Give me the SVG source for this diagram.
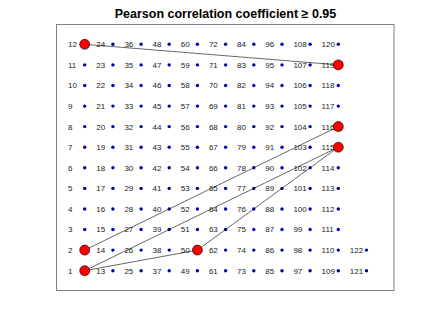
<svg xmlns="http://www.w3.org/2000/svg" width="436" height="327" viewBox="0 0 436 327">
<style>
text{font-family:"Liberation Sans",Arial,sans-serif;font-size:8px;fill:#222}
.t{font-size:12.5px;font-weight:bold;fill:#000;text-anchor:middle}
.d{fill:#0000a8}
.h{fill:#ff0000;stroke:#000;stroke-width:0.6}
.e{stroke:#000;stroke-width:0.6;fill:none}
</style>
<rect x="0" y="0" width="436" height="327" fill="#fff"/>
<text class="t" x="225.5" y="17.5">Pearson correlation coefficient ≥ 0.95</text>
<rect x="56.5" y="24.5" width="337.5" height="266" fill="none" stroke="#808080" stroke-width="1"/>
<g id="nodes">
<g id="n1"><text x="68.0" y="273.6">1</text></g>
<g id="n2"><text x="68.0" y="253.0">2</text></g>
<g id="n3"><text x="68.0" y="232.4">3</text><circle class="d" cx="84.7" cy="229.5" r="1.7"/></g>
<g id="n4"><text x="68.0" y="211.9">4</text><circle class="d" cx="84.7" cy="209.0" r="1.7"/></g>
<g id="n5"><text x="68.0" y="191.3">5</text><circle class="d" cx="84.7" cy="188.4" r="1.7"/></g>
<g id="n6"><text x="68.0" y="170.7">6</text><circle class="d" cx="84.7" cy="167.8" r="1.7"/></g>
<g id="n7"><text x="68.0" y="150.1">7</text><circle class="d" cx="84.7" cy="147.2" r="1.7"/></g>
<g id="n8"><text x="68.0" y="129.5">8</text><circle class="d" cx="84.7" cy="126.6" r="1.7"/></g>
<g id="n9"><text x="68.0" y="109.0">9</text><circle class="d" cx="84.7" cy="106.1" r="1.7"/></g>
<g id="n10"><text x="68.0" y="88.4">10</text><circle class="d" cx="84.7" cy="85.5" r="1.7"/></g>
<g id="n11"><text x="68.0" y="67.8">11</text><circle class="d" cx="84.7" cy="64.9" r="1.7"/></g>
<g id="n12"><text x="68.0" y="47.2">12</text></g>
<g id="n13"><text x="96.2" y="273.6">13</text><circle class="d" cx="112.9" cy="270.7" r="1.7"/></g>
<g id="n14"><text x="96.2" y="253.0">14</text><circle class="d" cx="112.9" cy="250.1" r="1.7"/></g>
<g id="n15"><text x="96.2" y="232.4">15</text><circle class="d" cx="112.9" cy="229.5" r="1.7"/></g>
<g id="n16"><text x="96.2" y="211.9">16</text><circle class="d" cx="112.9" cy="209.0" r="1.7"/></g>
<g id="n17"><text x="96.2" y="191.3">17</text><circle class="d" cx="112.9" cy="188.4" r="1.7"/></g>
<g id="n18"><text x="96.2" y="170.7">18</text><circle class="d" cx="112.9" cy="167.8" r="1.7"/></g>
<g id="n19"><text x="96.2" y="150.1">19</text><circle class="d" cx="112.9" cy="147.2" r="1.7"/></g>
<g id="n20"><text x="96.2" y="129.5">20</text><circle class="d" cx="112.9" cy="126.6" r="1.7"/></g>
<g id="n21"><text x="96.2" y="109.0">21</text><circle class="d" cx="112.9" cy="106.1" r="1.7"/></g>
<g id="n22"><text x="96.2" y="88.4">22</text><circle class="d" cx="112.9" cy="85.5" r="1.7"/></g>
<g id="n23"><text x="96.2" y="67.8">23</text><circle class="d" cx="112.9" cy="64.9" r="1.7"/></g>
<g id="n24"><text x="96.2" y="47.2">24</text><circle class="d" cx="112.9" cy="44.3" r="1.7"/></g>
<g id="n25"><text x="124.4" y="273.6">25</text><circle class="d" cx="141.1" cy="270.7" r="1.7"/></g>
<g id="n26"><text x="124.4" y="253.0">26</text><circle class="d" cx="141.1" cy="250.1" r="1.7"/></g>
<g id="n27"><text x="124.4" y="232.4">27</text><circle class="d" cx="141.1" cy="229.5" r="1.7"/></g>
<g id="n28"><text x="124.4" y="211.9">28</text><circle class="d" cx="141.1" cy="209.0" r="1.7"/></g>
<g id="n29"><text x="124.4" y="191.3">29</text><circle class="d" cx="141.1" cy="188.4" r="1.7"/></g>
<g id="n30"><text x="124.4" y="170.7">30</text><circle class="d" cx="141.1" cy="167.8" r="1.7"/></g>
<g id="n31"><text x="124.4" y="150.1">31</text><circle class="d" cx="141.1" cy="147.2" r="1.7"/></g>
<g id="n32"><text x="124.4" y="129.5">32</text><circle class="d" cx="141.1" cy="126.6" r="1.7"/></g>
<g id="n33"><text x="124.4" y="109.0">33</text><circle class="d" cx="141.1" cy="106.1" r="1.7"/></g>
<g id="n34"><text x="124.4" y="88.4">34</text><circle class="d" cx="141.1" cy="85.5" r="1.7"/></g>
<g id="n35"><text x="124.4" y="67.8">35</text><circle class="d" cx="141.1" cy="64.9" r="1.7"/></g>
<g id="n36"><text x="124.4" y="47.2">36</text><circle class="d" cx="141.1" cy="44.3" r="1.7"/></g>
<g id="n37"><text x="152.5" y="273.6">37</text><circle class="d" cx="169.2" cy="270.7" r="1.7"/></g>
<g id="n38"><text x="152.5" y="253.0">38</text><circle class="d" cx="169.2" cy="250.1" r="1.7"/></g>
<g id="n39"><text x="152.5" y="232.4">39</text><circle class="d" cx="169.2" cy="229.5" r="1.7"/></g>
<g id="n40"><text x="152.5" y="211.9">40</text><circle class="d" cx="169.2" cy="209.0" r="1.7"/></g>
<g id="n41"><text x="152.5" y="191.3">41</text><circle class="d" cx="169.2" cy="188.4" r="1.7"/></g>
<g id="n42"><text x="152.5" y="170.7">42</text><circle class="d" cx="169.2" cy="167.8" r="1.7"/></g>
<g id="n43"><text x="152.5" y="150.1">43</text><circle class="d" cx="169.2" cy="147.2" r="1.7"/></g>
<g id="n44"><text x="152.5" y="129.5">44</text><circle class="d" cx="169.2" cy="126.6" r="1.7"/></g>
<g id="n45"><text x="152.5" y="109.0">45</text><circle class="d" cx="169.2" cy="106.1" r="1.7"/></g>
<g id="n46"><text x="152.5" y="88.4">46</text><circle class="d" cx="169.2" cy="85.5" r="1.7"/></g>
<g id="n47"><text x="152.5" y="67.8">47</text><circle class="d" cx="169.2" cy="64.9" r="1.7"/></g>
<g id="n48"><text x="152.5" y="47.2">48</text><circle class="d" cx="169.2" cy="44.3" r="1.7"/></g>
<g id="n49"><text x="180.7" y="273.6">49</text><circle class="d" cx="197.4" cy="270.7" r="1.7"/></g>
<g id="n50"><text x="180.7" y="253.0">50</text></g>
<g id="n51"><text x="180.7" y="232.4">51</text><circle class="d" cx="197.4" cy="229.5" r="1.7"/></g>
<g id="n52"><text x="180.7" y="211.9">52</text><circle class="d" cx="197.4" cy="209.0" r="1.7"/></g>
<g id="n53"><text x="180.7" y="191.3">53</text><circle class="d" cx="197.4" cy="188.4" r="1.7"/></g>
<g id="n54"><text x="180.7" y="170.7">54</text><circle class="d" cx="197.4" cy="167.8" r="1.7"/></g>
<g id="n55"><text x="180.7" y="150.1">55</text><circle class="d" cx="197.4" cy="147.2" r="1.7"/></g>
<g id="n56"><text x="180.7" y="129.5">56</text><circle class="d" cx="197.4" cy="126.6" r="1.7"/></g>
<g id="n57"><text x="180.7" y="109.0">57</text><circle class="d" cx="197.4" cy="106.1" r="1.7"/></g>
<g id="n58"><text x="180.7" y="88.4">58</text><circle class="d" cx="197.4" cy="85.5" r="1.7"/></g>
<g id="n59"><text x="180.7" y="67.8">59</text><circle class="d" cx="197.4" cy="64.9" r="1.7"/></g>
<g id="n60"><text x="180.7" y="47.2">60</text><circle class="d" cx="197.4" cy="44.3" r="1.7"/></g>
<g id="n61"><text x="208.9" y="273.6">61</text><circle class="d" cx="225.6" cy="270.7" r="1.7"/></g>
<g id="n62"><text x="208.9" y="253.0">62</text><circle class="d" cx="225.6" cy="250.1" r="1.7"/></g>
<g id="n63"><text x="208.9" y="232.4">63</text><circle class="d" cx="225.6" cy="229.5" r="1.7"/></g>
<g id="n64"><text x="208.9" y="211.9">64</text><circle class="d" cx="225.6" cy="209.0" r="1.7"/></g>
<g id="n65"><text x="208.9" y="191.3">65</text><circle class="d" cx="225.6" cy="188.4" r="1.7"/></g>
<g id="n66"><text x="208.9" y="170.7">66</text><circle class="d" cx="225.6" cy="167.8" r="1.7"/></g>
<g id="n67"><text x="208.9" y="150.1">67</text><circle class="d" cx="225.6" cy="147.2" r="1.7"/></g>
<g id="n68"><text x="208.9" y="129.5">68</text><circle class="d" cx="225.6" cy="126.6" r="1.7"/></g>
<g id="n69"><text x="208.9" y="109.0">69</text><circle class="d" cx="225.6" cy="106.1" r="1.7"/></g>
<g id="n70"><text x="208.9" y="88.4">70</text><circle class="d" cx="225.6" cy="85.5" r="1.7"/></g>
<g id="n71"><text x="208.9" y="67.8">71</text><circle class="d" cx="225.6" cy="64.9" r="1.7"/></g>
<g id="n72"><text x="208.9" y="47.2">72</text><circle class="d" cx="225.6" cy="44.3" r="1.7"/></g>
<g id="n73"><text x="237.1" y="273.6">73</text><circle class="d" cx="253.8" cy="270.7" r="1.7"/></g>
<g id="n74"><text x="237.1" y="253.0">74</text><circle class="d" cx="253.8" cy="250.1" r="1.7"/></g>
<g id="n75"><text x="237.1" y="232.4">75</text><circle class="d" cx="253.8" cy="229.5" r="1.7"/></g>
<g id="n76"><text x="237.1" y="211.9">76</text><circle class="d" cx="253.8" cy="209.0" r="1.7"/></g>
<g id="n77"><text x="237.1" y="191.3">77</text><circle class="d" cx="253.8" cy="188.4" r="1.7"/></g>
<g id="n78"><text x="237.1" y="170.7">78</text><circle class="d" cx="253.8" cy="167.8" r="1.7"/></g>
<g id="n79"><text x="237.1" y="150.1">79</text><circle class="d" cx="253.8" cy="147.2" r="1.7"/></g>
<g id="n80"><text x="237.1" y="129.5">80</text><circle class="d" cx="253.8" cy="126.6" r="1.7"/></g>
<g id="n81"><text x="237.1" y="109.0">81</text><circle class="d" cx="253.8" cy="106.1" r="1.7"/></g>
<g id="n82"><text x="237.1" y="88.4">82</text><circle class="d" cx="253.8" cy="85.5" r="1.7"/></g>
<g id="n83"><text x="237.1" y="67.8">83</text><circle class="d" cx="253.8" cy="64.9" r="1.7"/></g>
<g id="n84"><text x="237.1" y="47.2">84</text><circle class="d" cx="253.8" cy="44.3" r="1.7"/></g>
<g id="n85"><text x="265.3" y="273.6">85</text><circle class="d" cx="282.0" cy="270.7" r="1.7"/></g>
<g id="n86"><text x="265.3" y="253.0">86</text><circle class="d" cx="282.0" cy="250.1" r="1.7"/></g>
<g id="n87"><text x="265.3" y="232.4">87</text><circle class="d" cx="282.0" cy="229.5" r="1.7"/></g>
<g id="n88"><text x="265.3" y="211.9">88</text><circle class="d" cx="282.0" cy="209.0" r="1.7"/></g>
<g id="n89"><text x="265.3" y="191.3">89</text><circle class="d" cx="282.0" cy="188.4" r="1.7"/></g>
<g id="n90"><text x="265.3" y="170.7">90</text><circle class="d" cx="282.0" cy="167.8" r="1.7"/></g>
<g id="n91"><text x="265.3" y="150.1">91</text><circle class="d" cx="282.0" cy="147.2" r="1.7"/></g>
<g id="n92"><text x="265.3" y="129.5">92</text><circle class="d" cx="282.0" cy="126.6" r="1.7"/></g>
<g id="n93"><text x="265.3" y="109.0">93</text><circle class="d" cx="282.0" cy="106.1" r="1.7"/></g>
<g id="n94"><text x="265.3" y="88.4">94</text><circle class="d" cx="282.0" cy="85.5" r="1.7"/></g>
<g id="n95"><text x="265.3" y="67.8">95</text><circle class="d" cx="282.0" cy="64.9" r="1.7"/></g>
<g id="n96"><text x="265.3" y="47.2">96</text><circle class="d" cx="282.0" cy="44.3" r="1.7"/></g>
<g id="n97"><text x="293.4" y="273.6">97</text><circle class="d" cx="310.1" cy="270.7" r="1.7"/></g>
<g id="n98"><text x="293.4" y="253.0">98</text><circle class="d" cx="310.1" cy="250.1" r="1.7"/></g>
<g id="n99"><text x="293.4" y="232.4">99</text><circle class="d" cx="310.1" cy="229.5" r="1.7"/></g>
<g id="n100"><text x="293.4" y="211.9">100</text><circle class="d" cx="310.1" cy="209.0" r="1.7"/></g>
<g id="n101"><text x="293.4" y="191.3">101</text><circle class="d" cx="310.1" cy="188.4" r="1.7"/></g>
<g id="n102"><text x="293.4" y="170.7">102</text><circle class="d" cx="310.1" cy="167.8" r="1.7"/></g>
<g id="n103"><text x="293.4" y="150.1">103</text><circle class="d" cx="310.1" cy="147.2" r="1.7"/></g>
<g id="n104"><text x="293.4" y="129.5">104</text><circle class="d" cx="310.1" cy="126.6" r="1.7"/></g>
<g id="n105"><text x="293.4" y="109.0">105</text><circle class="d" cx="310.1" cy="106.1" r="1.7"/></g>
<g id="n106"><text x="293.4" y="88.4">106</text><circle class="d" cx="310.1" cy="85.5" r="1.7"/></g>
<g id="n107"><text x="293.4" y="67.8">107</text><circle class="d" cx="310.1" cy="64.9" r="1.7"/></g>
<g id="n108"><text x="293.4" y="47.2">108</text><circle class="d" cx="310.1" cy="44.3" r="1.7"/></g>
<g id="n109"><text x="321.6" y="273.6">109</text><circle class="d" cx="338.3" cy="270.7" r="1.7"/></g>
<g id="n110"><text x="321.6" y="253.0">110</text><circle class="d" cx="338.3" cy="250.1" r="1.7"/></g>
<g id="n111"><text x="321.6" y="232.4">111</text><circle class="d" cx="338.3" cy="229.5" r="1.7"/></g>
<g id="n112"><text x="321.6" y="211.9">112</text><circle class="d" cx="338.3" cy="209.0" r="1.7"/></g>
<g id="n113"><text x="321.6" y="191.3">113</text><circle class="d" cx="338.3" cy="188.4" r="1.7"/></g>
<g id="n114"><text x="321.6" y="170.7">114</text><circle class="d" cx="338.3" cy="167.8" r="1.7"/></g>
<g id="n115"><text x="321.6" y="150.1">115</text></g>
<g id="n116"><text x="321.6" y="129.5">116</text></g>
<g id="n117"><text x="321.6" y="109.0">117</text><circle class="d" cx="338.3" cy="106.1" r="1.7"/></g>
<g id="n118"><text x="321.6" y="88.4">118</text><circle class="d" cx="338.3" cy="85.5" r="1.7"/></g>
<g id="n119"><text x="321.6" y="67.8">119</text></g>
<g id="n120"><text x="321.6" y="47.2">120</text><circle class="d" cx="338.3" cy="44.3" r="1.7"/></g>
<g id="n121"><text x="349.8" y="273.6">121</text><circle class="d" cx="366.5" cy="270.7" r="1.7"/></g>
<g id="n122"><text x="349.8" y="253.0">122</text><circle class="d" cx="366.5" cy="250.1" r="1.7"/></g>
</g>
<g id="connectors" class="e">
<line x1="84.7" y1="44.3" x2="338.3" y2="64.9"/>
<line x1="338.3" y1="126.6" x2="84.7" y2="250.1"/>
<line x1="338.3" y1="147.2" x2="84.7" y2="270.7"/>
<line x1="338.3" y1="147.2" x2="197.4" y2="250.1"/>
<line x1="84.7" y1="270.7" x2="197.4" y2="250.1"/>
</g>
<g id="highlighted">
<circle id="h1" class="h" cx="84.7" cy="270.7" r="5"/>
<circle id="h2" class="h" cx="84.7" cy="250.1" r="5"/>
<circle id="h12" class="h" cx="84.7" cy="44.3" r="5"/>
<circle id="h50" class="h" cx="197.4" cy="250.1" r="5"/>
<circle id="h115" class="h" cx="338.3" cy="147.2" r="5"/>
<circle id="h116" class="h" cx="338.3" cy="126.6" r="5"/>
<circle id="h119" class="h" cx="338.3" cy="64.9" r="5"/>
</g>
</svg>
